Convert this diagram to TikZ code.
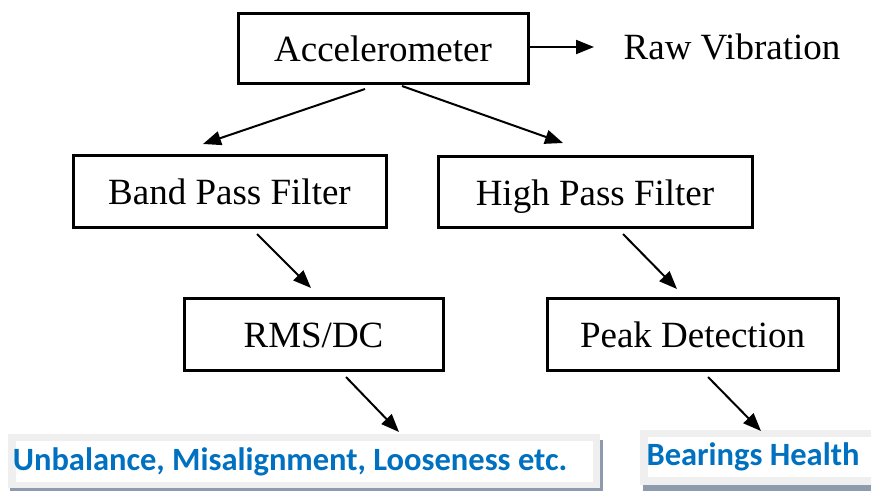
\documentclass[tikz,border=0pt]{standalone}
\usepackage{fontspec}
\setmainfont{Liberation Serif}
\newfontfamily\calib{Carlito}
\usetikzlibrary{arrows.meta}
\definecolor{txtblue}{HTML}{0070C0}
\definecolor{lgray}{HTML}{EFEFEF}
\definecolor{shad}{HTML}{8E9BAE}
\tikzset{
  blk/.style={draw=black, line width=3pt, fill=white, inner sep=0pt, text height=27pt, text depth=0pt, font=\fontsize{37}{40}\selectfont},
  arr/.style={line width=2pt, -{Triangle[length=18pt,width=14pt]}},
  lbl/.style={inner sep=0pt, font=\fontsize{37}{40}\selectfont},
  res/.style={inner sep=0pt, text=txtblue, font=\calib\bfseries\fontsize{32.5}{36}\selectfont}
}
\begin{document}
\begin{tikzpicture}[x=1pt,y=-1pt]
\useasboundingbox (0,0) rectangle (871,491);
% boxes
\node[blk, minimum width=290pt, minimum height=70pt] (acc) at (383,48) {Accelerometer};
\node[lbl] (raw) at (732,47) {Raw Vibration};
\node[blk, minimum width=313pt, minimum height=72pt] (bpf) at (229.5,191) {Band Pass Filter};
\node[blk, minimum width=314pt, minimum height=71pt] (hpf) at (595,191.5) {High Pass Filter};
\node[blk, minimum width=259pt, minimum height=72pt] (rms) at (313.5,334) {RMS/DC};
\node[blk, minimum width=291pt, minimum height=72pt] (peak) at (692.5,334) {Peak Detection};
% result boxes
\fill[shad] (10,487) rectangle (603,491);
\fill[shad] (599,440) rectangle (603,491);
\fill[lgray] (8,434) rectangle (600,488);
\fill[white] (16,441) rectangle (593,482);
\node[res] (unb) at (290,462) {Unbalance, Misalignment, Looseness etc.};
\fill[shad] (643,484) rectangle (871,491);
\fill[lgray] (640,430) rectangle (871,485);
\fill[white] (648,437) rectangle (871,477);
\node[res] (bh) at (753,457) {Bearings Health};
% arrow endpoints
\coordinate (a1s) at (365,89);
\coordinate (a1e) at (203,144);
\coordinate (a2s) at (402,86);
\coordinate (a2e) at (563,143);
\coordinate (a3s) at (257,234);
\coordinate (a3e) at (311,288);
\coordinate (a4s) at (623,234);
\coordinate (a4e) at (677,289);
\coordinate (a5s) at (346,377);
\coordinate (a5e) at (399,432);
\coordinate (a6s) at (708,377);
\coordinate (a6e) at (761,431);
\coordinate (rawe) at (594,47);
% connectors
\draw[arr] (acc.east |- rawe) -- (rawe);
\draw[arr] (a1s) -- (a1e);
\draw[arr] (a2s) -- (a2e);
\draw[arr] (a3s) -- (a3e);
\draw[arr] (a4s) -- (a4e);
\draw[arr] (a5s) -- (a5e);
\draw[arr] (a6s) -- (a6e);
\end{tikzpicture}
\end{document}
